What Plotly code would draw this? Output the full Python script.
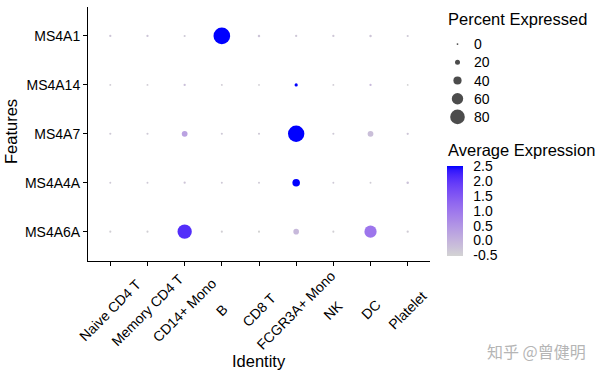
import plotly.graph_objects as go

# ---------------- data ----------------
cell_types = ["Naive CD4 T", "Memory CD4 T", "CD14+ Mono", "B", "CD8 T",
              "FCGR3A+ Mono", "NK", "DC", "Platelet"]
features = ["MS4A6A", "MS4A4A", "MS4A7", "MS4A14", "MS4A1"]  # bottom -> top

pct_MS4A1  = [3, 3, 2, 93, 4, 3, 3, 4, 2]
pct_MS4A14 = [1, 1, 3, 1, 0.5, 9, 1, 3, 0]
pct_MS4A7  = [2, 2, 25, 2, 2, 91, 2, 25, 3]
pct_MS4A4A = [1, 1, 3, 1, 1, 36, 1, 0.5, 4]
pct_MS4A6A = [2, 2, 78, 2, 2, 24, 2, 65, 3]

exp_MS4A1  = [-0.30, -0.30, -0.35, 2.50, -0.30, -0.33, -0.33, -0.30, -0.35]
exp_MS4A14 = [-0.40, -0.40, -0.20, -0.40, -0.45, 2.50, -0.40, -0.10, -0.50]
exp_MS4A7  = [-0.35, -0.35, 0.28, -0.35, -0.35, 2.50, -0.35, -0.20, -0.30]
exp_MS4A4A = [-0.35, -0.35, -0.30, -0.35, -0.35, 2.50, -0.35, -0.40, -0.25]
exp_MS4A6A = [-0.45, -0.45, 2.10, -0.45, -0.52, -0.10, -0.45, 1.00, -0.40]

size_legend_values = [0, 20, 40, 60, 80]
color_ticks = [-0.5, 0.0, 0.5, 1.0, 1.5, 2.0, 2.5]

pct_by_feature = {"MS4A1": pct_MS4A1, "MS4A14": pct_MS4A14, "MS4A7": pct_MS4A7,
                  "MS4A4A": pct_MS4A4A, "MS4A6A": pct_MS4A6A}
exp_by_feature = {"MS4A1": exp_MS4A1, "MS4A14": exp_MS4A14, "MS4A7": exp_MS4A7,
                  "MS4A4A": exp_MS4A4A, "MS4A6A": exp_MS4A6A}

# ---------------- styling helpers ----------------
FONT = "Liberation Sans, Arial, Helvetica, sans-serif"


def dot_size(p):
    return 1.8 + 0.16 * p


def _lin(c):
    c = c / 255.0
    return c / 12.92 if c <= 0.04045 else ((c + 0.055) / 1.055) ** 2.4


def _gam(c):
    c = 12.92 * c if c <= 0.0031308 else 1.055 * c ** (1 / 2.4) - 0.055
    return max(0, min(255, round(c * 255)))


WHITE = (0.95047, 1.0, 1.08883)


def rgb2lab(rgb):
    r, g, b = (_lin(v) for v in rgb)
    x = 0.4124564 * r + 0.3575761 * g + 0.1804375 * b
    y = 0.2126729 * r + 0.7151522 * g + 0.0721750 * b
    z = 0.0193339 * r + 0.1191920 * g + 0.9503041 * b

    def f(t):
        return t ** (1 / 3) if t > 216 / 24389 else (24389 / 27 * t + 16) / 116
    fx, fy, fz = f(x / WHITE[0]), f(y / WHITE[1]), f(z / WHITE[2])
    return (116 * fy - 16, 500 * (fx - fy), 200 * (fy - fz))


def lab2rgb(lab):
    L, a, b = lab
    fy = (L + 16) / 116
    fx = fy + a / 500
    fz = fy - b / 200

    def finv(t):
        return t ** 3 if t ** 3 > 216 / 24389 else (116 * t - 16) / (24389 / 27)
    x, y, z = finv(fx) * WHITE[0], finv(fy) * WHITE[1], finv(fz) * WHITE[2]
    r = 3.2404542 * x - 1.5371385 * y - 0.4985314 * z
    g = -0.9692660 * x + 1.8760108 * y + 0.0415560 * z
    bb = 0.0556434 * x - 0.2040259 * y + 1.0572252 * z
    return tuple(_gam(v) for v in (r, g, bb))


lo, hi = rgb2lab((211, 211, 211)), rgb2lab((0, 0, 255))
colorscale = []
N = 20
for i in range(N + 1):
    t = i / N
    lab = tuple(lo[k] + (hi[k] - lo[k]) * t for k in range(3))
    r, g, b = lab2rgb(lab)
    colorscale.append([t, f"rgb({r},{g},{b})"])

# ---------------- geometry (paper = px 88..600 x 0..261) ----------------
L_M, T_M, B_M = 88, 0, 114
PW, PH = 600 - L_M, 375 - T_M - B_M


def px_x(px):
    return (px - L_M) / PW


def px_y(py):
    return (PH - (py - T_M)) / PH


xs, ys, sizes, colors = [], [], [], []
for f in features:
    for i, c in enumerate(cell_types):
        xs.append(c)
        ys.append(f)
        sizes.append(dot_size(pct_by_feature[f][i]))
        colors.append(exp_by_feature[f][i])

all_exp = [v for f in features for v in exp_by_feature[f]]

fig = go.Figure()
fig.add_trace(go.Scatter(
    x=xs, y=ys, mode="markers", showlegend=False, hoverinfo="skip",
    marker=dict(
        size=sizes, sizemode="diameter", color=colors,
        colorscale=colorscale, cmin=min(all_exp), cmax=max(all_exp),
        line=dict(width=0), opacity=1,
        showscale=True,
        colorbar=dict(
            x=px_x(447), xanchor="left", xpad=0,
            y=px_y(211), yanchor="middle", ypad=0,
            len=90, lenmode="pixels", thickness=16, thicknessmode="pixels",
            outlinewidth=0, ticks="outside", ticklen=8,
            tickcolor="rgba(0,0,0,0)",
            tickvals=color_ticks, ticktext=[f"{v:.1f}" for v in color_ticks],
            tickfont=dict(family=FONT, size=14, color="black"),
        ),
    ),
))

# size legend drawn on its own small axes
fig.add_trace(go.Scatter(
    x=[10.5] * len(size_legend_values),
    y=list(range(len(size_legend_values))),
    mode="markers", showlegend=False, hoverinfo="skip",
    marker=dict(size=[dot_size(v) for v in size_legend_values],
                color="black", line=dict(width=0)),
    xaxis="x2", yaxis="y2",
))

annotations = []
for i, v in enumerate(size_legend_values):
    annotations.append(dict(x=25, y=i, xref="x2", yref="y2", text=str(v),
                            showarrow=False, xanchor="left", yanchor="middle",
                            font=dict(family=FONT, size=14, color="black")))

annotations.append(dict(x=px_x(446), y=px_y(19), xref="paper", yref="paper",
                        text="Percent Expressed", showarrow=False,
                        xanchor="left", yanchor="middle",
                        font=dict(family=FONT, size=16.5, color="black")))
annotations.append(dict(x=px_x(446), y=px_y(150), xref="paper", yref="paper",
                        text="Average Expression", showarrow=False,
                        xanchor="left", yanchor="middle",
                        font=dict(family=FONT, size=16.5, color="black")))

# rotated x tick labels (centred below each tick)
for c in cell_types:
    annotations.append(dict(x=c, y=px_y(310), xref="x", yref="paper", text=c,
                            showarrow=False, textangle=-45,
                            xanchor="center", yanchor="middle",
                            font=dict(family=FONT, size=14, color="black")))

annotations.append(dict(x=px_x(259), y=px_y(361), xref="paper", yref="paper",
                        text="Identity", showarrow=False,
                        xanchor="center", yanchor="middle",
                        font=dict(family=FONT, size=16.5, color="black")))
annotations.append(dict(x=px_x(11), y=px_y(132), xref="paper", yref="paper",
                        text="Features", showarrow=False, textangle=-90,
                        xanchor="center", yanchor="middle",
                        font=dict(family=FONT, size=16.5, color="black")))
annotations.append(dict(x=px_x(485), y=px_y(351), xref="paper", yref="paper",
                        text="知乎 @曾健明", showarrow=False,
                        xanchor="left", yanchor="middle",
                        font=dict(family="Noto Sans CJK SC", size=16,
                                  color="#b5b5b5")))

fig.update_layout(
    width=600, height=375,
    margin=dict(l=L_M, r=0, t=T_M, b=B_M, pad=0),
    paper_bgcolor="white", plot_bgcolor="white",
    font=dict(family=FONT, size=14, color="black"),
    xaxis=dict(domain=[0, px_x(430)], type="category",
               categoryorder="array", categoryarray=cell_types,
               range=[-0.6, len(cell_types) - 0.4],
               showgrid=False, zeroline=False, showline=True,
               linecolor="black", linewidth=1, ticks="outside", ticklen=4,
               tickcolor="black", tickwidth=1, showticklabels=False,
               mirror=False, fixedrange=True),
    yaxis=dict(domain=[0, px_y(6.6)], type="category",
               categoryorder="array", categoryarray=features,
               range=[-0.6, len(features) - 0.4],
               showgrid=False, zeroline=False, showline=True,
               linecolor="black", linewidth=1, ticks="outside", ticklen=4,
               tickcolor="black", tickwidth=1,
               tickfont=dict(family=FONT, size=14, color="black"),
               fixedrange=True),
    xaxis2=dict(domain=[px_x(447), 1], range=[0, 153], visible=False,
                anchor="y2", fixedrange=True),
    yaxis2=dict(domain=[px_y(126), px_y(35)], range=[4.5, -0.5],
                visible=False, anchor="x2", fixedrange=True),
    annotations=annotations,
)

fig.write_html("out.html",
               config={"displayModeBar": False},
               post_script="document.body.style.margin='0';")
